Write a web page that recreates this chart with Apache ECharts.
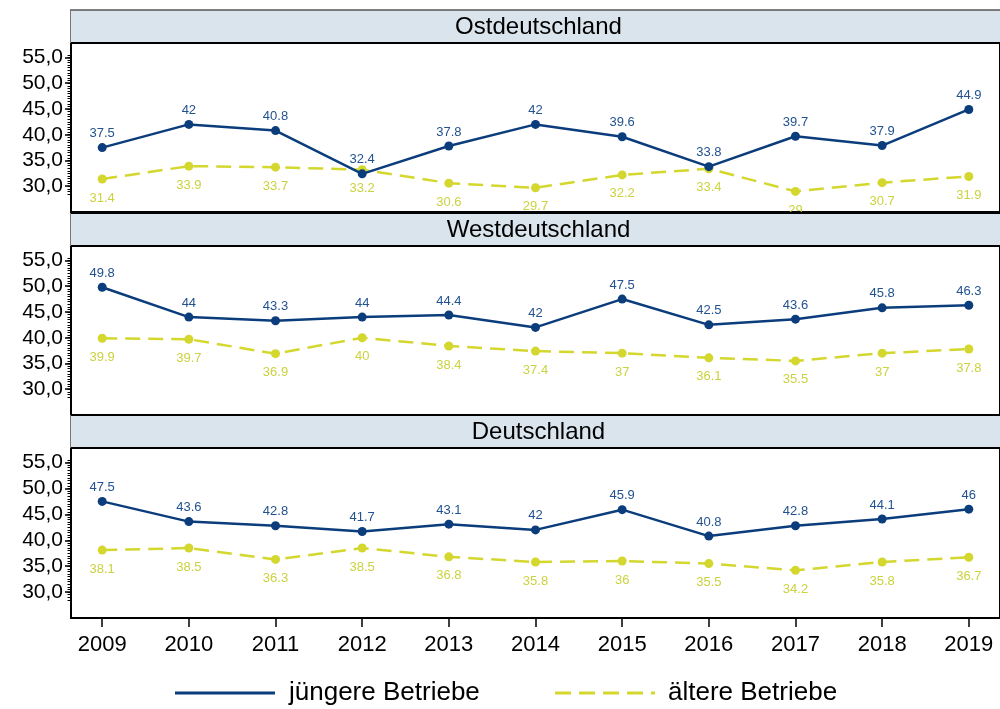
<!DOCTYPE html>
<html>
<head>
<meta charset="utf-8">
<script src="https://cdn.jsdelivr.net/npm/echarts@6/dist/echarts.min.js"></script>
<style>
  html, body { margin: 0; padding: 0; background: #fff; }
  #chart { width: 1000px; height: 709px; }
</style>
</head>
<body>
<div id="chart"></div>
<script>
// Jahre und Regionen
const years = [2009, 2010, 2011, 2012, 2013, 2014, 2015, 2016, 2017, 2018, 2019];
const regions = ['Ostdeutschland', 'Westdeutschland', 'Deutschland'];

// Werte je Region: jüngere bzw. ältere Betriebe
const ostJung  = [37.5, 42, 40.8, 32.4, 37.8, 42, 39.6, 33.8, 39.7, 37.9, 44.9];
const ostAlt   = [31.4, 33.9, 33.7, 33.2, 30.6, 29.7, 32.2, 33.4, 29, 30.7, 31.9];
const westJung = [49.8, 44, 43.3, 44, 44.4, 42, 47.5, 42.5, 43.6, 45.8, 46.3];
const westAlt  = [39.9, 39.7, 36.9, 40, 38.4, 37.4, 37, 36.1, 35.5, 37, 37.8];
const deJung   = [47.5, 43.6, 42.8, 41.7, 43.1, 42, 45.9, 40.8, 42.8, 44.1, 46];
const deAlt    = [38.1, 38.5, 36.3, 38.5, 36.8, 35.8, 36, 35.5, 34.2, 35.8, 36.7];

// Achsenbeschriftung
const yTicks = [30, 35, 40, 45, 50, 55];
const yMinorTicks = [];
for (let v = 28.5; v <= 55.5; v += 0.5) yMinorTicks.push(v);

const seriesNames = ['jüngere Betriebe', 'ältere Betriebe'];
const panelData = [[ostJung, ostAlt], [westJung, westAlt], [deJung, deAlt]];

const BLUE = '#0b3d7c';
const YELLOW = '#d3d72e';
const FONT = '"Liberation Sans", Arial, sans-serif';

// Layout der drei Panels
const plotLeft = 71, plotWidth = 935;
const panels = [
  { head: 10,  top: 43,  height: 169 },
  { head: 213, top: 246, height: 169 },
  { head: 415, top: 448, height: 170 }
];

const grids = [], xAxes = [], yAxes = [], series = [], graphics = [];

panels.forEach((p, i) => {
  const last = i === panels.length - 1;
  grids.push({
    left: plotLeft, top: p.top, width: plotWidth, height: p.height,
    show: true, borderColor: '#000', borderWidth: 2, backgroundColor: '#fff'
  });
  xAxes.push({
    type: 'value', gridIndex: i, min: 2008.64, max: 2019.36,
    axisLine: { show: last, lineStyle: { color: '#000', width: 2 } },
    axisTick: { show: last, customValues: years, length: 9, lineStyle: { color: '#000', width: 1.5 } },
    axisLabel: {
      show: last, customValues: years, margin: 16,
      color: '#000', fontSize: 22, fontFamily: FONT,
      formatter: v => String(v)
    },
    splitLine: { show: false }
  });
  // Hauptachse mit Beschriftung
  yAxes.push({
    type: 'value', gridIndex: i, min: 25, max: 57.8, position: 'left',
    axisLine: { show: true, lineStyle: { color: '#000', width: 2 } },
    axisTick: { show: true, customValues: yTicks, length: 6, lineStyle: { color: '#000', width: 1.5 } },
    axisLabel: {
      customValues: yTicks, margin: 8, color: '#000', fontSize: 21, fontFamily: FONT,
      formatter: v => v.toFixed(1).replace('.', ',')
    },
    splitLine: { show: false }
  });
  // Nebenstriche
  yAxes.push({
    type: 'value', gridIndex: i, min: 25, max: 57.8, position: 'left', offset: 0,
    axisLine: { show: false },
    axisTick: { show: true, customValues: yMinorTicks, length: 3.5, lineStyle: { color: '#000', width: 1 } },
    axisLabel: { show: false },
    splitLine: { show: false }
  });

  const [jung, alt] = panelData[i];
  series.push({
    name: seriesNames[0], type: 'line', xAxisIndex: i, yAxisIndex: i * 2,
    data: years.map((y, k) => [y, jung[k]]),
    symbol: 'circle', symbolSize: 9,
    lineStyle: { color: BLUE, width: 2.5 },
    itemStyle: { color: BLUE },
    label: {
      show: true, position: 'top', distance: 3,
      color: '#22528f', fontSize: 13, fontFamily: FONT,
      formatter: d => String(d.value[1])
    },
    z: 4
  });
  series.push({
    name: seriesNames[1], type: 'line', xAxisIndex: i, yAxisIndex: i * 2,
    data: years.map((y, k) => [y, alt[k]]),
    symbol: 'circle', symbolSize: 9,
    lineStyle: { color: YELLOW, width: 2.5, type: [15, 8] },
    itemStyle: { color: YELLOW },
    label: {
      show: true, position: 'bottom', distance: 8,
      color: '#cbd240', fontSize: 13, fontFamily: FONT,
      formatter: d => String(d.value[1])
    },
    z: 3
  });

  // Kopfzeile des Panels
  graphics.push({
    type: 'rect', z: 100,
    shape: { x: plotLeft - 1, y: p.head, width: plotWidth + 2, height: p.top - p.head - 1 },
    style: { fill: '#d9e4ec', stroke: null }
  });
  graphics.push({
    type: 'line', z: 101,
    shape: { x1: plotLeft - 1, y1: p.head, x2: plotLeft + plotWidth, y2: p.head },
    style: { stroke: i === 0 ? '#555' : '#000', lineWidth: i === 0 ? 1.5 : 2 }
  });
  graphics.push({
    type: 'line', z: 101,
    shape: { x1: plotLeft - 0.5, y1: p.head, x2: plotLeft - 0.5, y2: p.top },
    style: { stroke: '#777', lineWidth: 1 }
  });
  graphics.push({
    type: 'text', z: 102,
    x: plotLeft + plotWidth / 2, y: (p.head + p.top) / 2 + 1,
    style: {
      text: regions[i], fill: '#000', font: '24px ' + FONT,
      align: 'center', verticalAlign: 'middle'
    }
  });
});

// Legende
const legendY = 693;
graphics.push(
  { type: 'line', shape: { x1: 175, y1: legendY, x2: 275, y2: legendY },
    style: { stroke: BLUE, lineWidth: 3 } },
  { type: 'text', x: 289, y: legendY,
    style: { text: seriesNames[0], fill: '#000', font: '26px ' + FONT, verticalAlign: 'middle' } },
  { type: 'line', shape: { x1: 555, y1: legendY, x2: 655, y2: legendY },
    style: { stroke: YELLOW, lineWidth: 3, lineDash: [16, 8] } },
  { type: 'text', x: 668, y: legendY,
    style: { text: seriesNames[1], fill: '#000', font: '26px ' + FONT, verticalAlign: 'middle' } }
);

const chart = echarts.init(document.getElementById('chart'), null, { renderer: 'canvas' });
chart.setOption({
  animation: false,
  backgroundColor: '#fff',
  grid: grids,
  xAxis: xAxes,
  yAxis: yAxes,
  series: series,
  graphic: graphics
});
</script>
</body>
</html>
